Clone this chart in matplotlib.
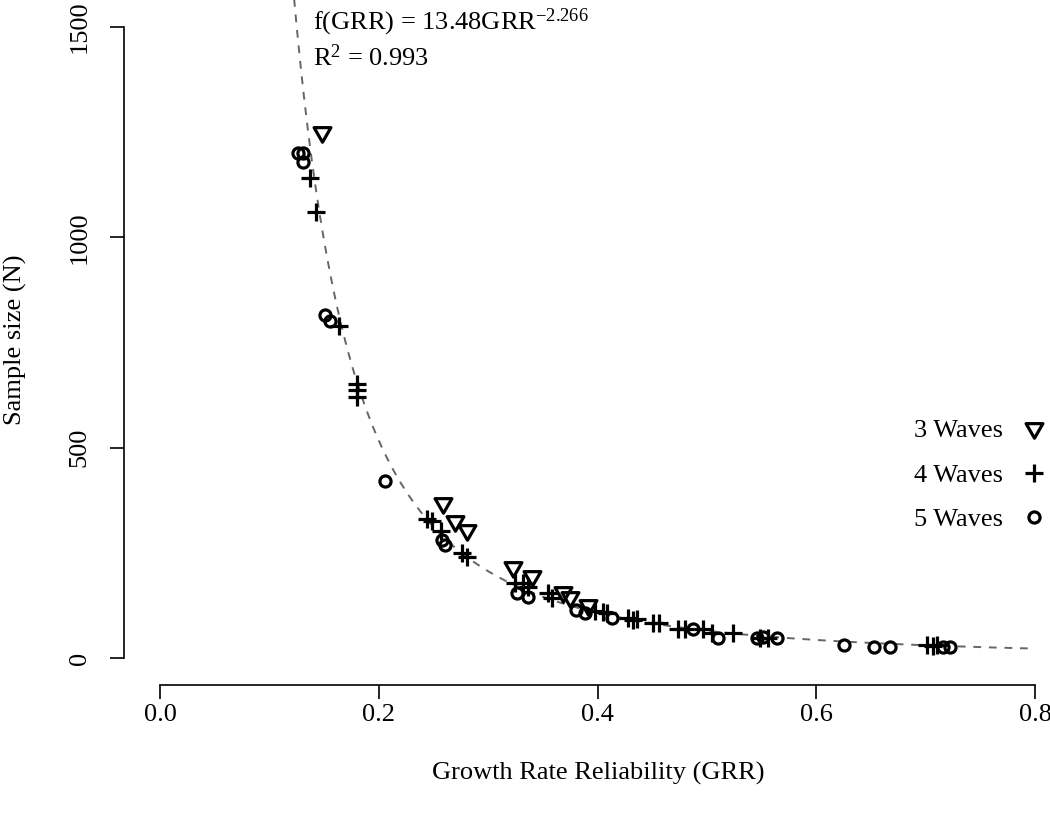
import numpy as np
import matplotlib
matplotlib.use('Agg')
import matplotlib.pyplot as plt
from matplotlib.path import Path
from matplotlib.lines import Line2D

plt.rcParams['font.family'] = ['Liberation Serif', 'DejaVu Serif']
plt.rcParams['mathtext.fontset'] = 'custom'
plt.rcParams['mathtext.rm'] = 'Liberation Serif'
plt.rcParams['mathtext.it'] = 'Liberation Serif:italic'

# 3 waves (down triangles)
grr3 = [0.148, 0.259, 0.270, 0.281, 0.323, 0.340, 0.368, 0.375, 0.391]
n3 = [1250, 368, 326, 304, 216, 195, 157, 145, 126]

# 4 waves (plus)
grr4 = [0.137, 0.143, 0.164, 0.180, 0.180, 0.180, 0.244, 0.249, 0.257, 0.276,
        0.281, 0.325, 0.332, 0.336, 0.355, 0.358, 0.398, 0.405, 0.409, 0.428,
        0.432, 0.436, 0.451, 0.456, 0.474, 0.480, 0.496, 0.505, 0.524, 0.549,
        0.556, 0.701, 0.707, 0.710]
n4 = [1140, 1060, 789, 652, 637, 620, 330, 325, 302, 250,
      240, 178, 178, 169, 155, 143, 112, 109, 107, 95,
      90, 93, 83, 83, 69, 69, 69, 59, 59, 48,
      48, 31, 29, 31]

# 5 waves (circles)
grr5 = [0.126, 0.131, 0.131, 0.151, 0.155, 0.206, 0.258, 0.261, 0.326, 0.336,
        0.380, 0.389, 0.413, 0.487, 0.510, 0.546, 0.551, 0.564, 0.625, 0.653,
        0.667, 0.716, 0.722]
n5 = [1200, 1200, 1179, 815, 800, 420, 280, 269, 155, 145,
      114, 107, 95, 69, 48, 48, 50, 48, 31, 27,
      27, 26, 26]

# fitted power curve f(GRR) = a * GRR^b
fit_a = 13.48
fit_b = -2.266
fit_r2 = 0.993

W, H = 1050, 815
fig = plt.figure(figsize=(W / 100, H / 100), dpi=100)
ax = fig.add_axes([160 / W, (H - 658) / H, 890 / W, 658 / H])
ax.set_xlim(0, 890 / 1093.75)
ax.set_ylim(0, 658 / 0.42067)

tri = Path([(-1, 0.577), (1, 0.577), (0, -1.155), (-1, 0.577)],
           [Path.MOVETO, Path.LINETO, Path.LINETO, Path.CLOSEPOLY])

xs = np.linspace(0.118, 0.8, 400)
ax.plot(xs, fit_a * xs ** fit_b, color='#666666', lw=1.4, ls=(0, (4, 4)), zorder=1)

st = dict(ls='none', mfc='none', mec='black', mew=2.3, zorder=3)
ax.plot(grr3, n3, marker=tri, ms=14, **st)
ax.plot(grr4, n4, marker='+', ms=13, **st)
ax.plot(grr5, n5, marker='o', ms=8, **st)

for s in ['top', 'right']:
    ax.spines[s].set_visible(False)
ax.spines['left'].set_position(('outward', 36 * 0.72))
ax.spines['bottom'].set_position(('outward', 27 * 0.72))
ax.spines['left'].set_bounds(0, 1500)
ax.spines['bottom'].set_bounds(0, 0.8)
for s in ['left', 'bottom']:
    ax.spines[s].set_linewidth(1.2)

ax.set_xticks([0.0, 0.2, 0.4, 0.6, 0.8])
ax.set_xticklabels(['0.0', '0.2', '0.4', '0.6', '0.8'])
ax.set_yticks([0, 500, 1000, 1500])
ax.tick_params(axis='both', length=10, width=1.2, labelsize=19)
ax.tick_params(axis='x', pad=4)
ax.tick_params(axis='y', pad=14)
for lab in ax.get_yticklabels():
    lab.set_rotation(90)
    lab.set_va('center')

fig.text(773 / W * 0 + 598 / W, 1 - 773 / H, 'Growth Rate Reliability (GRR)',
         ha='center', va='center', fontsize=19)
fig.text(15 / W, 1 - 340 / H, 'Sample size (N)', rotation=90,
         ha='center', va='center', fontsize=19)

fig.text(313 / W, 1 - 22 / H, r'f(GRR) = %.2fGRR$^{%.3f}$' % (fit_a, fit_b),
         ha='left', va='center', fontsize=19)
fig.text(313 / W, 1 - 58 / H, r'R$^{2}$ = %.3f' % fit_r2,
         ha='left', va='center', fontsize=19)

handles = [Line2D([], [], marker=tri, ms=14, **st),
           Line2D([], [], marker='+', ms=13, **st),
           Line2D([], [], marker='o', ms=8, **st)]
ax.legend(handles, ['3 Waves', '4 Waves', '5 Waves'], markerfirst=False,
          frameon=False, loc='center right', fontsize=19,
          bbox_to_anchor=(1047 / W, 1 - 475 / H), bbox_transform=fig.transFigure,
          borderpad=0, borderaxespad=0, handlelength=1.0, handletextpad=0.65,
          labelspacing=0.8)

fig.savefig('out.png', dpi=100)
